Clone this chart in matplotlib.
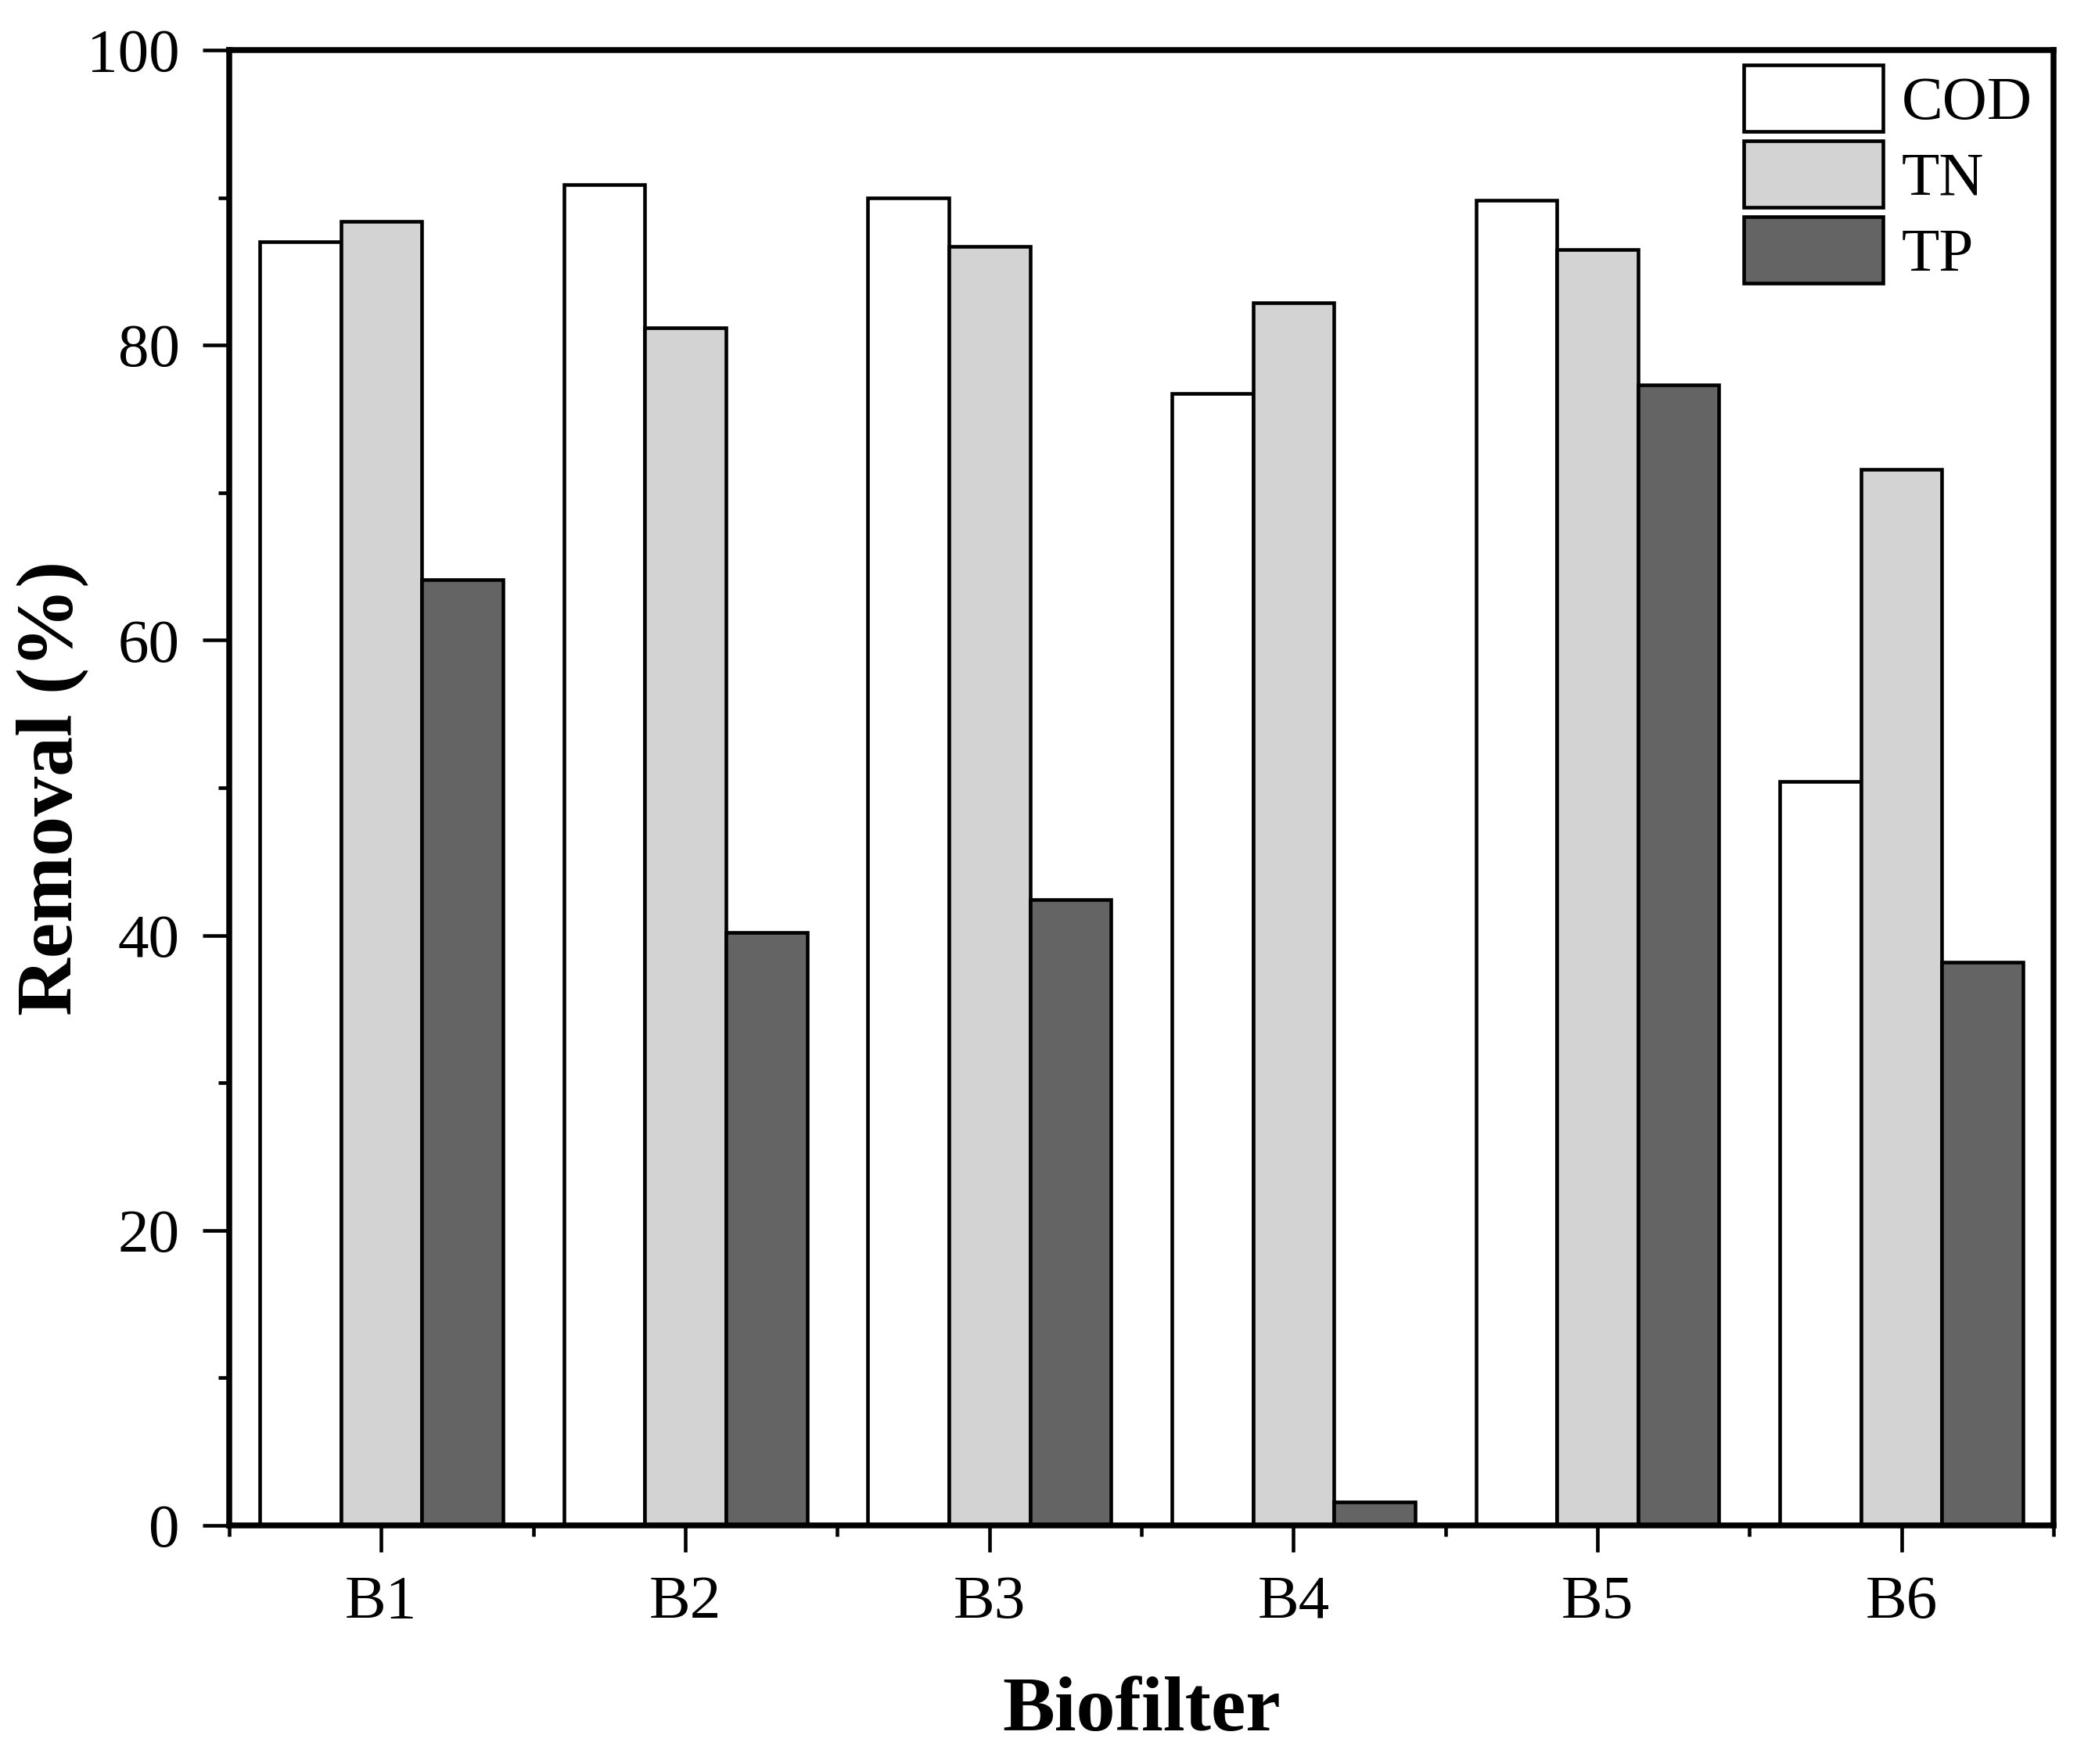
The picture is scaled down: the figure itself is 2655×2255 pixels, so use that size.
"""Biofilter removal efficiency - grouped bar chart (COD / TN / TP)"""

import matplotlib
matplotlib.use("Agg")

import matplotlib.pyplot as plt
import numpy as np

# data
biofilters = ["B1", "B2", "B3", "B4", "B5", "B6"]
cod = [87.0, 90.9, 90.0, 76.7, 89.8, 50.4]
tn = [88.4, 81.2, 86.7, 82.9, 86.5, 71.6]
tp = [64.1, 40.2, 42.4, 1.6, 77.3, 38.2]
series_names = ["COD", "TN", "TP"]
y_ticks = [0, 20, 40, 60, 80, 100]

plt.rcParams["font.family"] = ["Liberation Serif", "DejaVu Serif"]
plt.rcParams["mathtext.default"] = "regular"

colors = ["#ffffff", "#d3d3d3", "#646464"]
bar_w = 0.8 / 3

fig = plt.figure(figsize=(2655 / 300, 2255 / 300), dpi=300)
ax = fig.add_axes([0.1104, 0.1353, 0.8783, 0.8363])

x = np.arange(1, len(biofilters) + 1)
for i, (name, vals) in enumerate(zip(series_names, [cod, tn, tp])):
    ax.bar(x + (i - 1) * bar_w, vals, width=bar_w, color=colors[i],
           edgecolor="black", linewidth=1.1, label=name, zorder=2)

ax.set_xlim(0.5, 6.5)
ax.set_ylim(0, 100)
ax.set_xticks(x)
ax.set_xticklabels(biofilters)
ax.set_xticks(np.arange(0.5, 7.0, 1.0), minor=True)
ax.set_yticks(y_ticks)
ax.set_yticks(np.arange(10, 100, 20), minor=True)

for s in ax.spines.values():
    s.set_linewidth(1.8)
ax.tick_params(which="both", direction="out", width=1.1, labelsize=19,
               top=False, right=False)
ax.tick_params(which="major", length=8.2, pad=7)
ax.tick_params(which="minor", length=3.4)

ax.set_ylabel("Removal (%)", fontsize=24.5, fontweight="bold")
ax.yaxis.set_label_coords(-0.077, 0.5)
ax.set_xlabel("Biofilter", fontsize=24, fontweight="bold", labelpad=14)

ax.legend(loc="upper left", bbox_to_anchor=(0.830, 0.990),
          bbox_transform=ax.transAxes, frameon=False, fontsize=19,
          borderpad=0, borderaxespad=0, handlelength=2.25, handleheight=1.28,
          handletextpad=0.3, labelspacing=0.135)

fig.savefig("out.png", dpi=300)
plt.close(fig)
